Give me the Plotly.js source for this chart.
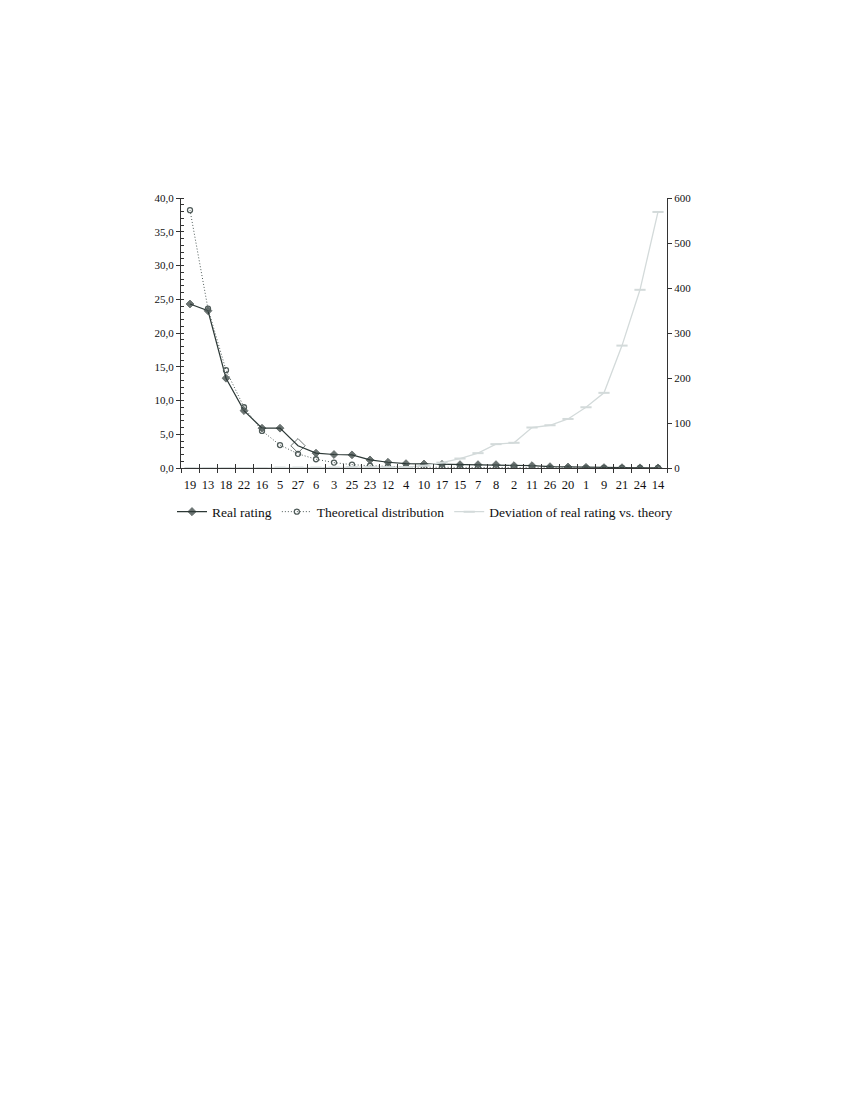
<!DOCTYPE html>
<html>
<head>
<meta charset="utf-8">
<script src="https://cdn.plot.ly/plotly-3.0.1.min.js"></script>
<style>
  body { margin: 0; background: #fff; }
  #chart { width: 850px; height: 1100px; }
</style>
</head>
<body>
<div id="chart"></div>
<script>
// categories along the x axis
var cats = ["19","13","18","22","16","5","27","6","3","25","23","12","4","10","17","15","7","8","2","11","26","20","1","9","21","24","14"];

// left axis series (percent)
var realRating = [24.3, 23.3, 13.3, 8.5, 5.9, 5.9, 3.3, 2.2, 2.0, 1.95, 1.2, 0.85, 0.65, 0.6, 0.55, 0.5, 0.5, 0.5, 0.35, 0.35, 0.2, 0.15, 0.1, 0.06, 0.05, 0.03, 0.02];
var theoretical = [38.2, 23.6, 14.5, 9.0, 5.5, 3.4, 2.1, 1.3, 0.8, 0.5, 0.33, 0.22, 0.16, 0.12, 0.09, 0.07, 0.06, 0.05, 0.04, 0.03, 0.03, 0.02, 0.02, 0.01, 0.01, 0.01, 0.01];

// right axis series
var deviation = [0, 0, 0, 0, 0, 1, 1, 1, 1, 2, 2, 2, 2, 5, 12, 21, 33, 53, 56, 90, 95, 109, 135, 167, 272, 396, 569];

var dark = "#2c3836";
var mid = "#4f5b59";
var light = "#d3dada";
var axisCol = "#333";
var fnt = "Liberation Serif, Times New Roman, serif";

// plot area sits between x=181 and x=667 of the 850px page
var dom = [181 / 850, 667 / 850];

// the one hollow diamond on category 27
var realSymbols = cats.map(function (c) { return c == "27" ? "diamond-open" : "diamond"; });
var realSizes = cats.map(function (c) { return c == "27" ? 11 : 6; });

var traces = [
  {
    x: cats, y: realRating, name: "Real rating",
    mode: "lines+markers", type: "scatter",
    line: { color: dark, width: 1.2 },
    marker: { symbol: realSymbols, size: realSizes, color: dark, line: { color: dark, width: 1 } }
  },
  {
    x: cats, y: theoretical, name: "Theoretical distribution",
    mode: "lines+markers", type: "scatter",
    line: { color: mid, width: 1, dash: "1px,2px" },
    marker: { symbol: "circle-open", size: 5, color: mid, line: { color: mid, width: 1.3 } }
  },
  {
    x: cats, y: deviation, name: "Deviation of real rating vs. theory",
    xaxis: "x2", yaxis: "y2",
    mode: "lines+markers", type: "scatter",
    line: { color: light, width: 1.3 },
    marker: { symbol: "line-ew-open", size: 8, color: light, line: { color: light, width: 2 } }
  }
];

var layout = {
  width: 850, height: 1100,
  paper_bgcolor: "#fff", plot_bgcolor: "#fff",
  separators: ",.",
  font: { family: fnt, size: 12, color: "#111" },
  margin: { l: 0, r: 0, t: 198, b: 632, autoexpand: false },
  showlegend: true,
  legend: {
    orientation: "h", x: 0.5, xanchor: "center",
    y: -0.105, yanchor: "top",
    font: { family: fnt, size: 13.5, color: "#111" },
    tracegroupgap: 0, itemwidth: 30
  },
  xaxis: {
    type: "category", range: [-0.5, 26.5], domain: dom,
    showline: true, linecolor: axisCol, linewidth: 1,
    showgrid: false, zeroline: false,
    ticks: "outside", ticklen: 4, tickcolor: axisCol, tickson: "boundaries",
    tickangle: 0,
    tickfont: { family: fnt, size: 12.5, color: "#111" }, ticklabelstandoff: 5
  },
  xaxis2: {
    type: "category", overlaying: "x", range: [-0.5, 26.5], domain: dom,
    showline: false, showgrid: false, zeroline: false,
    ticks: "inside", ticklen: 4, tickcolor: axisCol, tickson: "boundaries",
    showticklabels: false
  },
  yaxis: {
    range: [0, 40], dtick: 5, tickformat: ".1f",
    showline: true, linecolor: axisCol, linewidth: 1,
    showgrid: false, zeroline: false,
    ticks: "outside", ticklen: 4, tickcolor: axisCol,
    minor: { ticks: "inside", dtick: 1, ticklen: 3, tickcolor: axisCol, showgrid: false },
    tickfont: { family: fnt, size: 11, color: "#111" }
  },
  yaxis2: {
    range: [0, 600], dtick: 100, overlaying: "y", side: "right",
    showline: true, linecolor: axisCol, linewidth: 1,
    showgrid: false, zeroline: false,
    ticks: "outside", ticklen: 4, tickcolor: axisCol,
    tickfont: { family: fnt, size: 11, color: "#111" }
  }
};

Plotly.newPlot("chart", traces, layout, { staticPlot: true });
</script>
</body>
</html>
